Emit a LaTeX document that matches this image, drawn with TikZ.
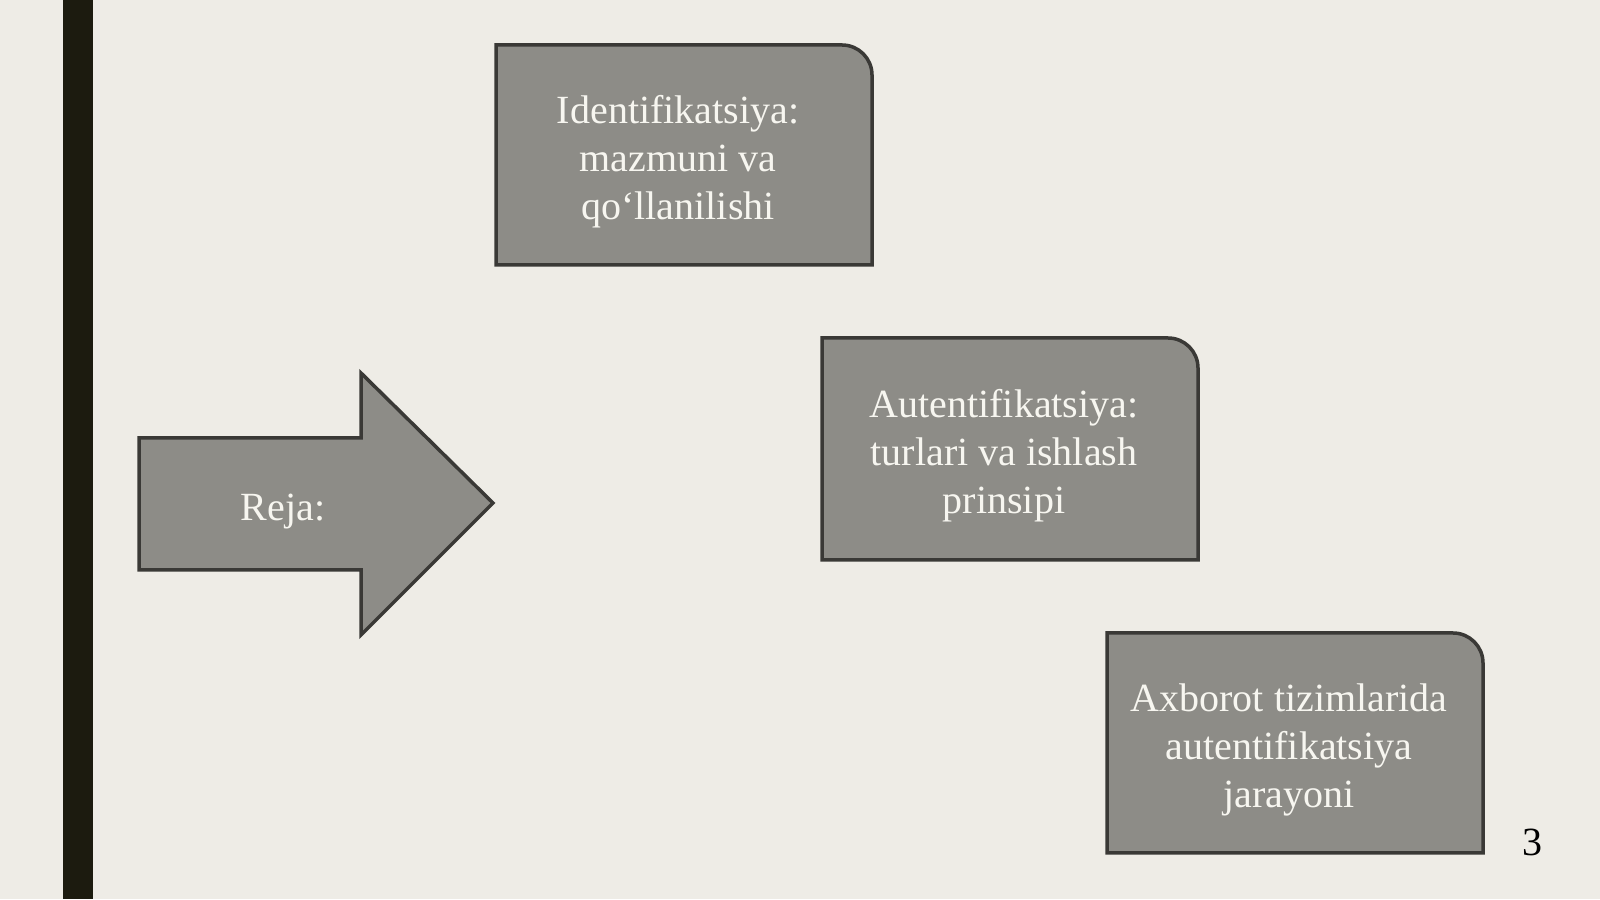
\documentclass[tikz,border=0pt]{standalone}
\usepackage{fontspec}
\setmainfont{Liberation Serif}
\definecolor{bgc}{HTML}{EEECE6}
\definecolor{barc}{HTML}{1C1B0F}
\definecolor{panelfill}{HTML}{8D8C87}
\definecolor{panelline}{HTML}{3A3936}
\definecolor{txtc}{HTML}{F7F6F0}
\tikzset{
  panel/.style={fill=panelfill, draw=panelline, line width=3.5pt, line join=miter},
  label/.style={text=txtc, font=\fontsize{40pt}{48pt}\selectfont, align=center, inner sep=0pt},
}
\begin{document}
\begin{tikzpicture}[x=1pt,y=1pt]
\fill[bgc] (0,0) rectangle (1600,899);
\useasboundingbox (0,0) rectangle (1600,899);
\fill[barc] (63,0) rectangle (93,899);
% arrow
\draw[panel] (139,461) -- (361,461) -- (361,526) -- (493,396) -- (361,264) -- (361,329) -- (139,329) -- cycle;
\node[label] (reja) at (283,387) {Reja:};
% boxes
\draw[panel] (496,634) -- (496,854) -- (842,854) arc[start angle=90,end angle=0,radius=30] -- (872,634) -- cycle;
\node[label] (ident) at (678,737) {Identifikatsiya:\\mazmuni va\\qo‘llanilishi};
\draw[panel] (822,339) -- (822,561) -- (1168,561) arc[start angle=90,end angle=0,radius=30] -- (1198,339) -- cycle;
\node[label] (auth) at (1004,443) {Autentifikatsiya:\\turlari va ishlash\\prinsipi};
\draw[panel] (1107,46) -- (1107,266) -- (1453,266) arc[start angle=90,end angle=0,radius=30] -- (1483,46) -- cycle;
\node[label] (axb) at (1289,149) {Axborot tizimlarida\\autentifikatsiya\\jarayoni};
\node[font=\fontsize{40pt}{48pt}\selectfont, text=black, inner sep=0pt] (pnum) at (1532,57) {3};
\end{tikzpicture}
\end{document}
